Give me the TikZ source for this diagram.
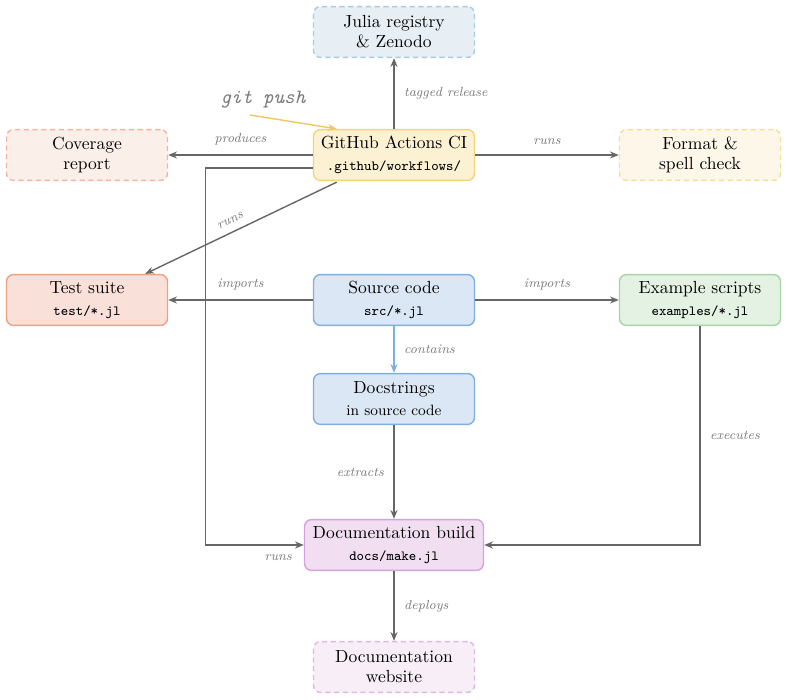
\documentclass[tikz,border=0pt]{standalone}
\usetikzlibrary{arrows.meta,calc}
\definecolor{linegray}{HTML}{666666}
\definecolor{labelgray}{HTML}{7A7A7A}
\definecolor{regF}{HTML}{E7EFF4}\definecolor{regD}{HTML}{A8CBE2}
\definecolor{ciF}{HTML}{FCF1D2}\definecolor{ciD}{HTML}{F3D37E}
\definecolor{covF}{HTML}{FBEFEA}\definecolor{covD}{HTML}{F1B5A2}
\definecolor{fmtF}{HTML}{FDF7EA}\definecolor{fmtD}{HTML}{F6DD9C}
\definecolor{testF}{HTML}{F9E1D9}\definecolor{testD}{HTML}{EBA284}
\definecolor{srcF}{HTML}{DBE7F5}\definecolor{srcD}{HTML}{7FAEE1}
\definecolor{exF}{HTML}{E3F2E2}\definecolor{exD}{HTML}{A6D7A1}
\definecolor{docF}{HTML}{F1DEF1}\definecolor{docD}{HTML}{D4A3DC}
\definecolor{webF}{HTML}{F7EEF7}\definecolor{webD}{HTML}{DDB9E1}
\definecolor{gold}{HTML}{F2C85E}
\begin{document}
\begin{tikzpicture}[x=0.57pt,y=-0.57pt,
  box/.style={rounded corners=4pt, minimum width=91.8pt, minimum height=29pt,
    align=center, line width=0.8pt, inner sep=2pt,
    font=\fontsize{10}{11.5}\selectfont},
  ghost/.style={box, dash pattern=on 3pt off 2pt},
  conn/.style={draw=linegray, line width=0.8pt, -{Stealth[length=5pt,width=4pt]}},
  lbl/.style={font=\fontsize{7.5}{9}\selectfont\itshape, text=labelgray},
  gitlbl/.style={font=\fontsize{11.5}{13}\selectfont\ttfamily\itshape, text=labelgray}
]
\useasboundingbox (0,0) rectangle (787,700);
\newcommand{\code}[1]{{\fontsize{8}{9}\selectfont\ttfamily #1}}

\node[ghost, fill=regF, draw=regD] (reg) at (394,32) {Julia registry\\\& Zenodo};
\node[box, fill=ciF, draw=ciD] (ci) at (394,155) {GitHub Actions CI\\[1pt]\code{.github/workflows/}};
\node[ghost, fill=covF, draw=covD] (cov) at (87,155) {Coverage\\report};
\node[ghost, fill=fmtF, draw=fmtD] (fmt) at (700,155) {Format \&\\spell check};
\node[box, fill=testF, draw=testD] (test) at (87,300) {Test suite\\[1pt]\code{test/*.jl}};
\node[box, fill=srcF, draw=srcD] (src) at (394,300) {Source code\\[1pt]\code{src/*.jl}};
\node[box, fill=exF, draw=exD] (ex) at (700,300) {Example scripts\\[1pt]\code{examples/*.jl}};
\node[box, fill=srcF, draw=srcD] (dstr) at (394,399) {Docstrings\\[1pt]{\fontsize{8.5}{10}\selectfont in source code}};
\node[box, fill=docF, draw=docD, minimum width=102pt] (docb) at (394,545) {Documentation build\\[1pt]\code{docs/make.jl}};
\node[ghost, fill=webF, draw=webD] (web) at (394,667) {Documentation\\website};

\node[gitlbl] (git) at (263,100) {git push};
\coordinate (gpstart) at (250,115);

\draw[conn] (ci) -- (reg) node[lbl, midway, right=2pt] {tagged release};
\draw[conn, draw=gold] (gpstart) -- ($(ci.north west)+(24,0)$);
\draw[conn] (ci) -- (cov) node[lbl, midway, above=2pt] {produces};
\draw[conn] (ci) -- (fmt) node[lbl, midway, above=2pt] {runs};
\draw[conn] ($(ci.south west)+(24,1)$) -- ($(test.north east)+(-23,0)$)
  node[lbl, pos=0.53, sloped, above=1pt] {runs};
\draw[conn] ($(ci.west)+(0,13)$) -- ++(-107,0) |- (docb.west)
  node[lbl, pos=0.87, below=2pt] {runs};
\draw[conn] (src) -- (test) node[lbl, midway, above=2pt] {imports};
\draw[conn] (src) -- (ex) node[lbl, midway, above=2pt] {imports};
\draw[conn, draw=srcD] (src) -- (dstr) node[lbl, midway, right=2pt] {contains};
\draw[conn] (dstr) -- (docb) node[lbl, midway, left=2pt] {extracts};
\draw[conn] (ex.south) |- (docb.east) node[lbl, pos=0.25, right=2pt] {executes};
\draw[conn] (docb) -- (web) node[lbl, midway, right=2pt] {deploys};
\end{tikzpicture}
\end{document}
